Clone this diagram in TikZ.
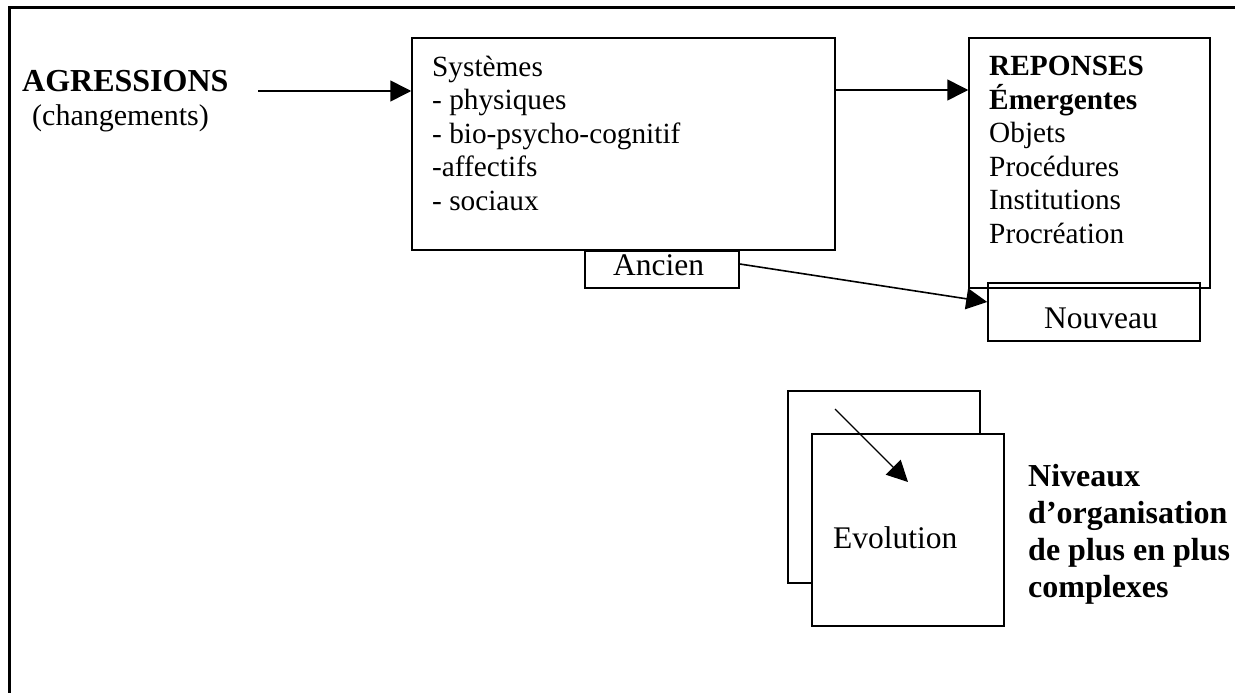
\documentclass[tikz,border=0pt]{standalone}
\usepackage{fontspec}
\setmainfont{Liberation Serif}
\usetikzlibrary{positioning,arrows.meta}

\tikzset{
  boite/.style={draw, line width=1.5pt, inner sep=0pt},
  fleche/.style={-{Triangle[length=21pt,width=21pt]}, line width=1.6pt},
  liste/.style={font=\fontsize{29.3}{33.5}\selectfont, align=left, inner sep=0pt, anchor=base west},
  gras/.style={font=\fontsize{32}{36.7}\selectfont\bfseries, align=left, inner sep=0pt, anchor=base west},
  etiquette/.style={font=\fontsize{31.5}{36}\selectfont, inner sep=0pt, anchor=base west}
}

\begin{document}
\begin{tikzpicture}[x=1pt, y=-1pt]
  % cadre
  \useasboundingbox (0,0) rectangle (1235,693);
  \draw[line width=3pt] (9.5,700) -- (9.5,7.5) -- (1240,7.5);

  % agressions
  \node[gras] (agr) at (22,92) {AGRESSIONS};
  \node[etiquette, font=\fontsize{30}{34}\selectfont] (chg) at (32,125) {(changements)};
  \coordinate (agrfin) at (258,91);

  % systemes (ancre = derniere ligne)
  \node[boite, minimum width=423pt, minimum height=212pt] (sys) at (623.5,144) {};
  \node[liste] (sysl) at (432,210) {Systèmes\\- physiques\\- bio-psycho-cognitif\\-affectifs\\- sociaux};
  \node[boite, minimum width=154pt, minimum height=37pt] (anc) at (662,269.5) {};
  \node[etiquette] (ancl) at (613,275) {Ancien};

  % reponses
  \node[boite, minimum width=241pt, minimum height=250pt] (rep) at (1089.5,163) {};
  \node[liste] (repl) at (989,243) {\textbf{REPONSES}\\\textbf{Émergentes}\\Objets\\Procédures\\Institutions\\Procréation};
  \node[boite, minimum width=212pt, minimum height=58pt] (nouv) at (1094,312) {};
  \node[etiquette] (nouvl) at (1044,328) {Nouveau};

  % evolution
  \node[boite, minimum size=192pt] (niv1) at (884,487) {};
  \node[boite, fill=white, minimum size=192pt] (niv2) at (908,530) {};
  \node[etiquette] (evol) at (833,548) {Evolution};
  \coordinate (evoA) at (835,409);
  \coordinate (evoB) at (908,482);
  \node[gras] (nivl) at (1028,597) {Niveaux\\d’organisation\\de plus en plus\\complexes};

  \draw[fleche] (agrfin) -- (sys.west |- agrfin);
  \draw[fleche] ([yshift=54pt]sys.east) -- ([yshift=73pt]rep.west);
  \draw[fleche] ([yshift=5.5pt]anc.east) -- ([yshift=10pt]nouv.west);
  \draw[fleche, line width=1.3pt] (evoA) -- (evoB);
\end{tikzpicture}
\end{document}
